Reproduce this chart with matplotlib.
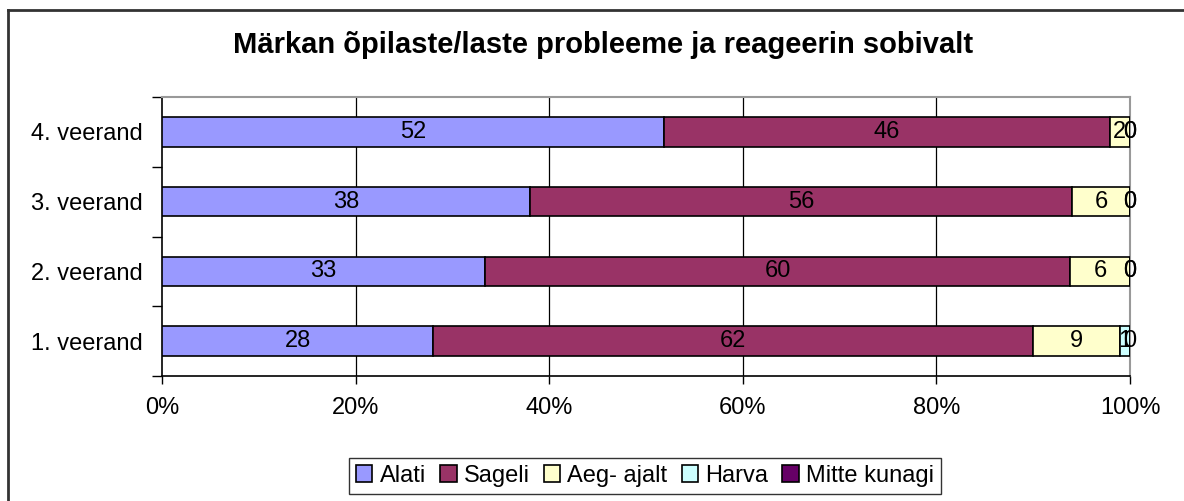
import matplotlib.pyplot as plt
import matplotlib.patches as mpatches
from matplotlib.lines import Line2D
import numpy as np

plt.rcParams['font.family'] = ['Liberation Sans', 'DejaVu Sans']

categories = ['1. veerand', '2. veerand', '3. veerand', '4. veerand']
series = ['Alati', 'Sageli', 'Aeg- ajalt', 'Harva', 'Mitte kunagi']
alati = [28.0, 33.4, 38.0, 51.9]
sageli = [62.0, 60.4, 56.0, 46.0]
aeg_ajalt = [9.0, 6.2, 6.0, 2.1]
harva = [1.0, 0.0, 0.0, 0.0]
mitte_kunagi = [0.0, 0.0, 0.0, 0.0]
colors = ['#9999FF', '#993366', '#FFFFCC', '#CCFFFF', '#660066']

values = np.array([alati, sageli, aeg_ajalt, harva, mitte_kunagi], dtype=float)

fig = plt.figure(figsize=(11.84, 5.01), dpi=100)
ax = fig.add_axes([162/1184, 1 - 376/501, (1130-162)/1184, (376-97)/501])

y = np.arange(len(categories))
left = np.zeros(len(categories))
for vals, name, col in zip(values, series, colors):
    ax.barh(y, vals, left=left, height=0.42, color=col, edgecolor='black',
            linewidth=1.2, label=name, zorder=3)
    for yi, l, v in zip(y, left, vals):
        ax.text(l + v/2, yi, '%d' % round(v), ha='center', va='center',
                fontsize=17, zorder=4)
    left += vals

ax.set_xlim(0, 100)
ax.set_ylim(-0.5, 3.5)
ax.set_xticks([0, 20, 40, 60, 80, 100])
ax.set_xticklabels(['0%', '20%', '40%', '60%', '80%', '100%'], fontsize=17)
ax.set_yticks(y)
ax.set_yticklabels(categories, fontsize=17)
ax.set_yticks([-0.5, 0.5, 1.5, 2.5, 3.5], minor=True)
ax.tick_params(axis='y', which='major', length=0, pad=14)
ax.tick_params(axis='y', which='minor', length=7, width=1, direction='out')
ax.tick_params(axis='x', length=6, width=1, direction='out', pad=9)

for xv in [20, 40, 60, 80]:
    ax.axvline(xv, color='black', linewidth=0.9, zorder=1)
ax.spines['left'].set_linewidth(1.2)
ax.spines['bottom'].set_linewidth(1.2)
ax.spines['top'].set_color('#999999')
ax.spines['right'].set_color('#999999')
ax.spines['top'].set_linewidth(1.5)
ax.spines['right'].set_linewidth(1.5)

fig.text(603/1184, 1 - 45/501, 'Märkan õpilaste/laste probleeme ja reageerin sobivalt',
         ha='center', va='center', fontsize=21, fontweight='bold')

handles = [mpatches.Patch(facecolor=c, edgecolor='black', linewidth=1.2) for c in colors]
leg = fig.legend(handles, series, loc='center', bbox_to_anchor=(645/1184, 1 - 476/501),
                 ncol=5, fontsize=17, frameon=True, fancybox=False,
                 handlelength=0.7, handleheight=0.7, handletextpad=0.3,
                 columnspacing=0.6, borderpad=0.3)
leg.get_frame().set_edgecolor('black')
leg.get_frame().set_linewidth(1)

fig.add_artist(Line2D([8/1184, 8/1184], [-0.1, 1 - 10/501], transform=fig.transFigure,
                      color='#333333', linewidth=2))
fig.add_artist(Line2D([8/1184, 1.1], [1 - 10/501, 1 - 10/501], transform=fig.transFigure,
                      color='#333333', linewidth=2))

fig.savefig('out.png', dpi=100)
